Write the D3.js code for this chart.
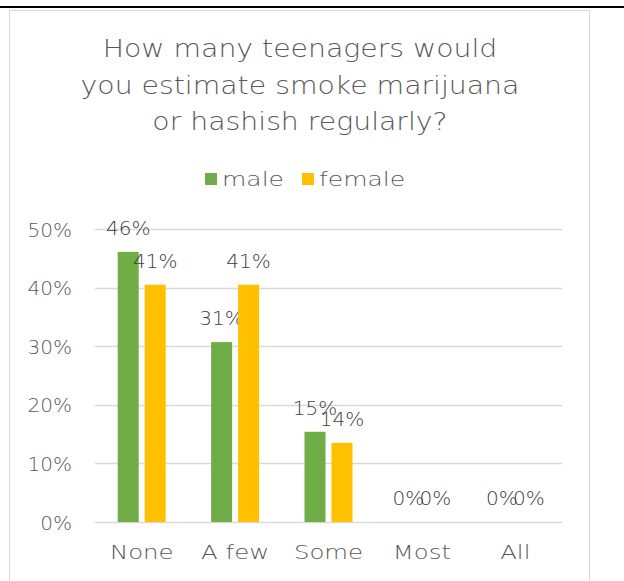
<!DOCTYPE html>
<html><head><meta charset="utf-8">
<script src="https://cdn.jsdelivr.net/npm/d3@7"></script>
<style>body{margin:0;background:#fff}svg{display:block}</style>
</head><body>
<script>
const categories = ["None", "A few", "Some", "Most", "All"];
const seriesNames = ["male", "female"];
const maleValues = [0.461, 0.307, 0.154, 0, 0];
const femaleValues = [0.405, 0.405, 0.135, 0, 0];
const maleLabels = ["46%", "31%", "15%", "0%", "0%"];
const femaleLabels = ["41%", "41%", "14%", "0%", "0%"];
const yTicks = [0, 0.1, 0.2, 0.3, 0.4, 0.5];
const titleLines = ["How many teenagers would", "you estimate smoke marijuana", "or hashish regularly?"];
const colors = ["#70AD47", "#FFC000"];

const W = 624, H = 581;
const font = "'Century Gothic','URW Gothic','DejaVu Sans',sans-serif";
const txt = "#595959";
const sx = 1.18;
const svg = d3.select("body").append("svg").attr("width", W).attr("height", H);

svg.append("line").attr("x1",0).attr("x2",W).attr("y1",7).attr("y2",7).attr("stroke","#000").attr("stroke-width",2);
svg.append("rect").attr("x",9.5).attr("y",10.5).attr("width",580).attr("height",H).attr("fill","#fff").attr("stroke","#D9D9D9");

svg.append("g").selectAll("text").data(titleLines).join("text")
  .attr("transform", (d,i)=>`translate(300,${57+i*36.5}) scale(${sx},1)`).attr("text-anchor","middle")
  .attr("font-family", font).attr("font-size", 24).attr("font-weight",300)
  .attr("fill", txt).text(d=>d);

// legend
const legend = [{n:seriesNames[0], c:colors[0], x:205},{n:seriesNames[1], c:colors[1], x:302}];
const lg = svg.append("g");
legend.forEach(l=>{
  lg.append("rect").attr("x",l.x).attr("y",173).attr("width",12).attr("height",12).attr("fill",l.c);
  lg.append("text").attr("transform",`translate(${l.x+17},186) scale(1.25,1)`).attr("font-family",font).attr("font-size",20).attr("font-weight",300)
    .attr("fill",txt).text(l.n);
});

const x = d3.scaleBand().domain(categories).range([95, 562]);
const y = d3.scaleLinear().domain([0, 0.5]).range([522, 229]);

const g = svg.append("g");
g.selectAll("line.grid").data(yTicks).join("line").attr("class","grid")
  .attr("x1",95).attr("x2",562).attr("y1",d=>Math.round(y(d))+0.5).attr("y2",d=>Math.round(y(d))+0.5)
  .attr("stroke","#D9D9D9").attr("stroke-width",1.3);

const yAxis = d3.axisLeft(y).tickValues(yTicks).tickFormat(d3.format(".0%")).tickSize(0).tickPadding(0);
const ya = svg.append("g").attr("transform","translate(72,0)").call(yAxis);
ya.select(".domain").remove();
ya.selectAll("text").attr("font-family",font).attr("font-size",20).attr("font-weight",300).attr("fill",txt).attr("dy","0.35em");

const xAxis = d3.axisBottom(x).tickSize(0).tickPadding(0);
const xa = svg.append("g").attr("transform","translate(0,552)").call(xAxis);
xa.select(".domain").remove();
xa.selectAll("text").attr("font-family",font).attr("font-size",20).attr("font-weight",300).attr("fill",txt)
  .attr("transform",`scale(1.22,1)`).attr("dy","0.35em").attr("y",0);
xa.selectAll(".tick").each(function(){
  const t = d3.select(this).attr("transform");
});

const bw = 21, gap = 6;
const series = [maleValues, femaleValues];
const labels = [maleLabels, femaleLabels];
series.forEach((vals, s)=>{
  const off = s===0 ? -gap/2 - bw : gap/2;
  const cx = c => x(c) + x.bandwidth()/2 + off;
  g.selectAll("rect.s"+s).data(categories).join("rect").attr("class","s"+s)
    .attr("x", c=>cx(c)).attr("width", bw)
    .attr("y", (c,i)=>y(vals[i])).attr("height",(c,i)=>y(0)-y(vals[i]))
    .attr("fill", colors[s]);
  g.selectAll("text.l"+s).data(categories).join("text").attr("class","l"+s)
    .attr("x", c=>cx(c)+bw/2).attr("y",(c,i)=>y(vals[i])-17)
    .attr("text-anchor","middle").attr("font-family",font).attr("font-size",20).attr("font-weight",300)
    .attr("fill","#404040")
    .text((c,i)=>labels[s][i]);
});
</script>
</body></html>
